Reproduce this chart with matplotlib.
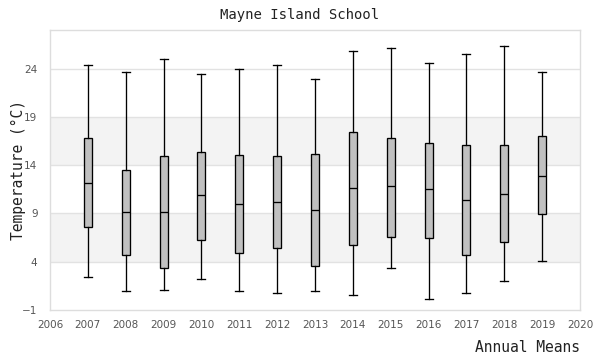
import numpy as np
import matplotlib
matplotlib.use("Agg")
import matplotlib.pyplot as plt

# annual temperature summaries
years = [2007, 2008, 2009, 2010, 2011, 2012, 2013, 2014, 2015, 2016, 2017, 2018, 2019]
whisker_low = [2.4, 1.0, 1.1, 2.2, 1.0, 0.8, 1.0, 0.6, 3.4, 0.1, 0.8, 2.0, 4.1]
q1 = [7.6, 4.7, 3.3, 6.3, 4.9, 5.4, 3.6, 5.7, 6.6, 6.5, 4.7, 6.0, 8.9]
median = [12.2, 9.2, 9.2, 10.9, 10.0, 10.2, 9.4, 11.6, 11.8, 11.5, 10.4, 11.0, 12.9]
q3 = [16.8, 13.5, 15.0, 15.4, 15.1, 15.0, 15.2, 17.4, 16.8, 16.3, 16.1, 16.1, 17.0]
whisker_high = [24.4, 23.7, 25.0, 23.4, 24.0, 24.4, 22.9, 25.8, 26.1, 24.6, 25.5, 26.3, 23.7]

y_ticks = [-1, 4, 9, 14, 19, 24]
x_ticks = list(range(2006, 2021))

mono = "DejaVu Sans Mono"
text_color = "#222222"
grid_color = "#e2e2e2"

fig = plt.figure(figsize=(6, 3.6), dpi=100)
ax = fig.add_axes([50 / 600, 50 / 360, 530 / 600, 280 / 360])

# alternating bands
for lo, hi in [(4, 9), (14, 19)]:
    ax.axhspan(lo, hi, color="#f3f3f3", zorder=0, lw=0)
for yv in y_ticks[1:]:
    ax.axhline(yv, color=grid_color, lw=1, zorder=1)

stats = []
for i in range(len(years)):
    stats.append({
        "whislo": whisker_low[i], "q1": q1[i], "med": median[i],
        "q3": q3[i], "whishi": whisker_high[i], "fliers": [],
    })

w = 0.21
lw = 0.95
ax.bxp(stats, positions=years, widths=w, capwidths=w, patch_artist=True,
       showfliers=False, manage_ticks=False,
       boxprops=dict(facecolor="#c0c0c0", edgecolor="black", linewidth=lw),
       medianprops=dict(color="black", linewidth=lw),
       whiskerprops=dict(color="black", linewidth=lw),
       capprops=dict(color="black", linewidth=lw), zorder=3)

ax.set_xlim(2006, 2020)
ax.set_ylim(-1, 28)
ax.set_xticks(x_ticks)
ax.set_xticklabels([str(x) for x in x_ticks])
ax.set_yticks(y_ticks)
ax.tick_params(axis="both", length=0, labelsize=7.5, labelcolor="#555555")
ax.tick_params(axis="x", pad=7)
ax.tick_params(axis="y", pad=9)

for side in ["top", "right", "left", "bottom"]:
    ax.spines[side].set_color("#dddddd")
    ax.spines[side].set_linewidth(1)

fig.text(0.5, 1 - 15 / 360, "Mayne Island School", family=mono, fontsize=10,
         color=text_color, ha="center", va="center")
fig.text(18 / 600, 0.5 + 10 / 360, "Temperature (\u00b0C)", family=mono, fontsize=10.5,
         color=text_color, rotation=90, ha="center", va="center")
fig.text(580 / 600, 1 - 348 / 360, "Annual Means", family=mono, fontsize=10.5,
         color=text_color, ha="right", va="center")

fig.savefig("out.png", dpi=100)
